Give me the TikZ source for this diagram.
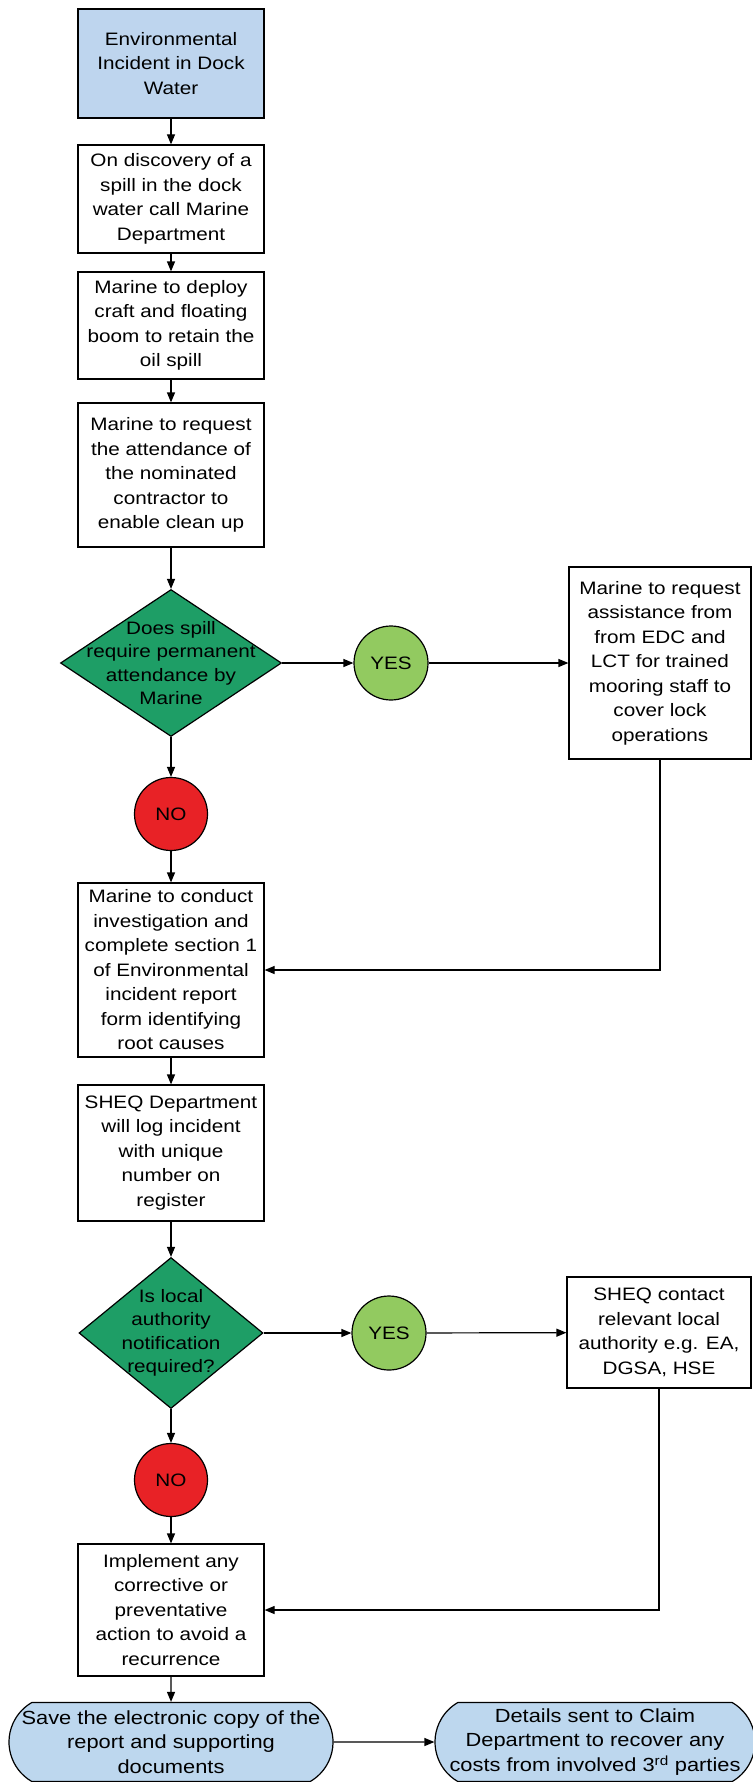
\documentclass[tikz,border=0pt]{standalone}
\usepackage{fontspec}
\setmainfont{Liberation Sans}[FakeStretch=1.15]
\usetikzlibrary{shapes.geometric,shapes.misc,arrows.meta}

\definecolor{startblue}{RGB}{190,213,238}
\definecolor{endblue}{RGB}{189,215,238}
\definecolor{decgreen}{RGB}{30,158,102}
\definecolor{yesgreen}{RGB}{146,202,96}
\definecolor{nored}{RGB}{232,34,38}

\tikzset{
  stepbox/.style={draw, line width=1.2pt, minimum width=186, inner sep=2pt, align=center,
    font=\fontsize{18}{24.5}\selectfont},
  startbox/.style={stepbox, fill=startblue},
  decision/.style={diamond, draw, line width=1.2pt, fill=decgreen, inner sep=0pt},
  dectext/.style={align=center, inner sep=0pt, font=\fontsize{18}{23.5}\selectfont},
  yesnode/.style={circle, draw, line width=1.2pt, fill=yesgreen, minimum size=74, inner sep=0pt,
    font=\fontsize{18}{22}\selectfont},
  nonode/.style={circle, draw, line width=1.2pt, fill=nored, minimum size=73, inner sep=0pt,
    font=\fontsize{18}{22}\selectfont},
  endnode/.style={rounded rectangle, rounded rectangle arc length=120, draw, line width=1.2pt,
    fill=endblue, minimum width=316, minimum height=79, inner sep=0pt, align=center,
    font=\fontsize{19}{24.5}\selectfont},
  arr/.style={line width=1.2pt, -{Triangle[length=10pt,width=8pt]}}
}

\begin{document}
\begin{tikzpicture}[x=1pt, y=-1pt]
\useasboundingbox (0,0) rectangle (752,1782);
\node[startbox, minimum height=109] (incident) at (171,63.5) {Environmental\\Incident in Dock\\Water};
\node[stepbox, minimum height=108] (discover) at (171,199) {On discovery of a\\spill in the dock\\water call Marine\\Department};
\node[stepbox, minimum height=107] (deploy) at (171,325.5) {Marine to deploy\\craft and floating\\boom to retain the\\oil spill};
\node[stepbox, minimum height=144] (contractor) at (171,475) {Marine to request\\the attendance of\\the nominated\\contractor to\\enable clean up};
\node[decision, minimum width=221, minimum height=147,
  label={[dectext]center:Does spill\\require permanent\\attendance by\\Marine}] (spillq) at (171,663) {};
\node[yesnode] (yesa) at (391,663) {YES};
\node[stepbox, minimum width=182, minimum height=192] (assist) at (660,663) {Marine to request\\assistance from\\from EDC and\\LCT for trained\\mooring staff to\\cover lock\\operations};
\node[nonode] (noa) at (171,814) {NO};
\node[stepbox, minimum height=174] (investigate) at (171,970) {Marine to conduct\\investigation and\\complete section 1\\of Environmental\\incident report\\form identifying\\root causes};
\node[stepbox, minimum height=136] (logreg) at (171,1153) {SHEQ Department\\will log incident\\with unique\\number on\\register};
\node[decision, minimum width=184, minimum height=151,
  label={[dectext]center:Is local\\authority\\notification\\required?}] (notifyq) at (171,1333) {};
\node[yesnode] (yesb) at (389,1333) {YES};
\node[stepbox, minimum width=184, minimum height=111] (contact) at (659,1332.5) {SHEQ contact\\relevant local\\authority e.g. EA,\\DGSA, HSE};
\node[nonode] (nob) at (171,1480) {NO};
\node[stepbox, minimum height=132] (implement) at (171,1610) {Implement any\\corrective or\\preventative\\action to avoid a\\recurrence};
\node[endnode] (save) at (171,1742) {Save the electronic copy of the\\report and supporting\\documents};
\node[endnode, minimum width=312] (claim) at (595,1742) {Details sent to Claim\\Department to recover any\\costs from involved 3\textsuperscript{rd} parties};
\draw[arr] (incident) -- (discover);
\draw[arr] (discover) -- (deploy);
\draw[arr] (deploy) -- (contractor);
\draw[arr] (contractor) -- (spillq);
\draw[arr] (spillq) -- (yesa);
\draw[arr] (yesa) -- (assist);
\draw[arr] (spillq) -- (noa);
\draw[arr] (noa) -- (investigate);
\draw[arr] (assist.south) |- (investigate.east);
\draw[arr] (investigate) -- (logreg);
\draw[arr] (logreg) -- (notifyq);
\draw[arr] (notifyq) -- (yesb);
\draw[arr] (yesb) -- (contact);
\draw[arr] (notifyq) -- (nob);
\draw[arr] (nob) -- (implement);
\draw[arr] (contact.south) |- (implement.east);
\draw[arr] (implement) -- (save);
\draw[arr] (save) -- (claim);
\end{tikzpicture}
\end{document}
